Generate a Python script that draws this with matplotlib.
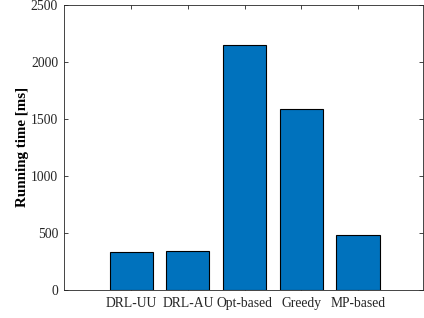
import matplotlib
matplotlib.use('Agg')
import matplotlib.pyplot as plt

# datos
metodos = ['DRL-UU', 'DRL-AU', 'Opt-based', 'Greedy', 'MP-based']
tiempos = [328, 342, 2147, 1583, 477]
y_ticks = [0, 500, 1000, 1500, 2000, 2500]

plt.rcParams['font.family'] = ['Liberation Serif', 'DejaVu Serif']

fig = plt.figure(figsize=(4.24, 3.18), dpi=100)
ax = fig.add_axes([0.150, 0.089, 0.847, 0.895])

x = list(range(1, len(metodos) + 1))
ax.bar(x, tiempos, width=0.76, color='#0072BD', edgecolor='black', linewidth=0.8, zorder=3)

ax.set_xticks(x)
ax.set_xticklabels(metodos, fontsize=9.8)
ax.set_yticks(y_ticks)
ax.set_yticklabels([str(v) for v in y_ticks], fontsize=9.8)
ax.set_xlim(-0.19, 6.14)
ax.set_ylim(0, 2500)
ax.set_ylabel('Running time [ms]', fontsize=10.8, fontweight='bold', labelpad=1)

ax.tick_params(direction='in', top=True, right=True, length=3, width=0.6, pad=4,
               colors='#262626', labelcolor='#262626')
ax.tick_params(axis='x', pad=5)
for s in ax.spines.values():
    s.set_color('#262626')
    s.set_linewidth(0.6)

plt.savefig('out.png', dpi=100)
